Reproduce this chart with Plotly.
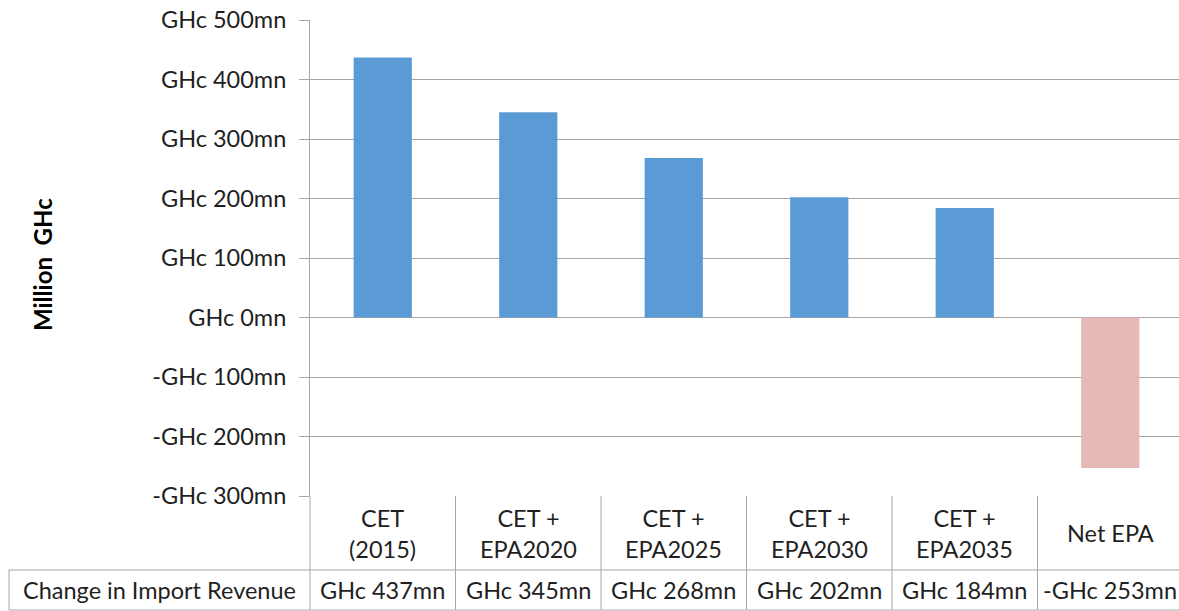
import plotly.graph_objects as go

categories = ["CET<br>(2015)", "CET +<br>EPA2020", "CET +<br>EPA2025", "CET +<br>EPA2030", "CET +<br>EPA2035", "Net EPA"]
values = [437, 345, 268, 202, 184, -253]
bar_colors = ["#5B9BD5", "#5B9BD5", "#5B9BD5", "#5B9BD5", "#5B9BD5", "#E6B9B8"]
tick_vals = [-300, -200, -100, 0, 100, 200, 300, 400, 500]
row_header = "Change in Import Revenue"
y_title = "Million  GHc"


def fmt(v):
    return ("-GHc %dmn" % abs(v)) if v < 0 else ("GHc %dmn" % v)


W, H = 1179, 611
L, R, T, B = 310, 0, 20, 115
plot_h = H - T - B
plot_w = W - L - R
cat_px = 145.5
FONT = "Lato"
FS = 23.5
TXT = "#1f1f1f"
GRID = "#A6A6A6"


def py(p):
    # pixel y -> paper y
    return (H - B - p) / plot_h


def px(p):
    return (p - L) / plot_w


xs = list(range(len(categories)))
fig = go.Figure()
fig.add_trace(go.Bar(x=xs, y=values, marker=dict(color=bar_colors, line=dict(width=0)),
                     width=0.4, showlegend=False, hoverinfo="skip"))

annotations = []
shapes = []
for i, (c, v) in enumerate(zip(categories, values)):
    annotations.append(dict(x=i, y=py(533), xref="x", yref="paper", text=c, showarrow=False,
                            xanchor="center", yanchor="middle", align="center",
                            font=dict(family=FONT, size=FS, color=TXT)))
    annotations.append(dict(x=i, y=py(590), xref="x", yref="paper", text=fmt(v), showarrow=False,
                            xanchor="center", yanchor="middle",
                            font=dict(family=FONT, size=FS, color=TXT)))
    shapes.append(dict(type="line", xref="x", yref="paper", x0=i + 0.5, x1=i + 0.5,
                       y0=py(496), y1=py(610), line=dict(color=GRID, width=1)))

annotations.append(dict(x=px(159.5), y=py(590), xref="paper", yref="paper", text=row_header,
                        showarrow=False, xanchor="center", yanchor="middle",
                        font=dict(family=FONT, size=FS, color=TXT)))
annotations.append(dict(x=px(42), y=py(265), xref="paper", yref="paper", text="<b>" + y_title + "</b>",
                        showarrow=False, textangle=-90, xanchor="center", yanchor="middle",
                        font=dict(family=FONT, size=24, color="#000000")))

# table / frame lines
shapes.append(dict(type="line", xref="paper", yref="paper", x0=0, x1=0, y0=py(496), y1=py(610),
                   line=dict(color=GRID, width=1)))
shapes.append(dict(type="line", xref="paper", yref="paper", x0=px(9), x1=1, y0=py(570), y1=py(570),
                   line=dict(color=GRID, width=1)))
shapes.append(dict(type="line", xref="paper", yref="paper", x0=px(9), x1=1, y0=py(610), y1=py(610),
                   line=dict(color=GRID, width=1)))
shapes.append(dict(type="line", xref="paper", yref="paper", x0=px(9), x1=px(9), y0=py(570), y1=py(610),
                   line=dict(color=GRID, width=1)))

fig.update_layout(
    width=W, height=H,
    margin=dict(l=L, r=R, t=T, b=B, pad=0),
    paper_bgcolor="white", plot_bgcolor="white",
    bargap=0.6,
    xaxis=dict(range=[-0.5, -0.5 + plot_w / cat_px], showticklabels=False, showgrid=False,
               zeroline=False, ticks="", showline=False, fixedrange=True),
    yaxis=dict(range=[-300, 500], tickvals=tick_vals, ticktext=[fmt(v) for v in tick_vals],
               showgrid=True, gridcolor=GRID, gridwidth=1, zeroline=False,
               showline=True, linecolor=GRID, linewidth=1,
               ticks="outside", ticklen=10, tickcolor=GRID, ticklabelstandoff=8,
               tickfont=dict(family=FONT, size=FS, color=TXT), fixedrange=True),
    annotations=annotations,
    shapes=shapes,
)

fig.write_html("out.html", config={"displayModeBar": False},
               post_script="document.body.style.margin='0';document.body.style.overflow='hidden';")
